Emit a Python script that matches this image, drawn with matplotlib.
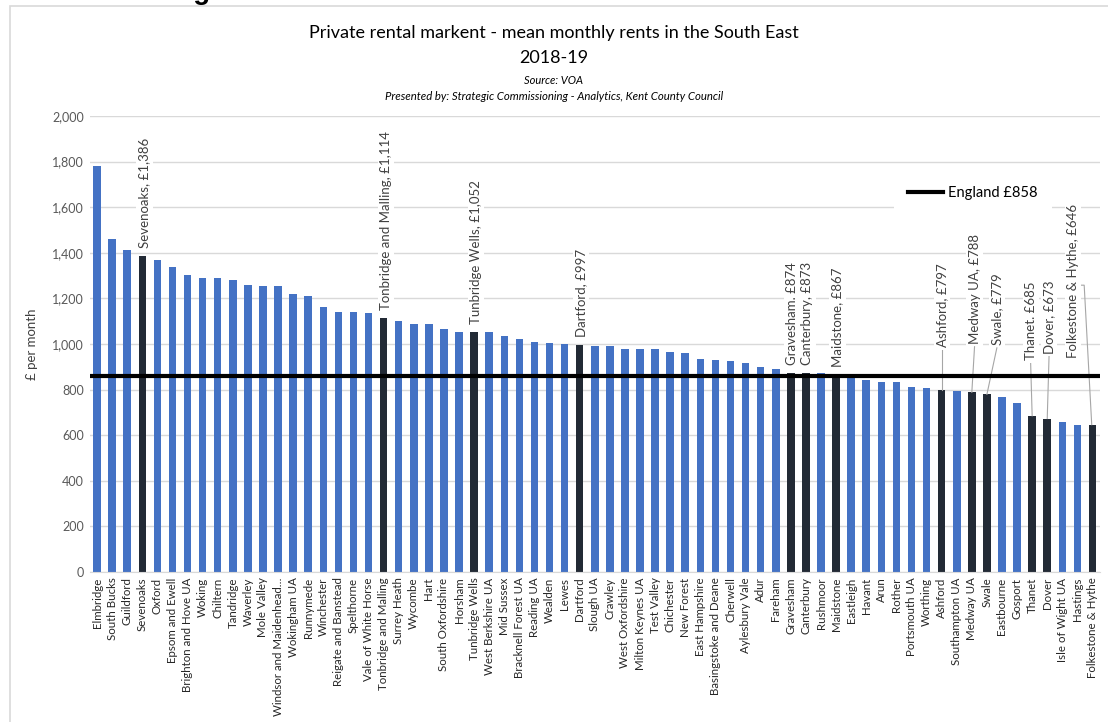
import matplotlib
matplotlib.use("Agg")
import matplotlib.pyplot as plt
from matplotlib.patches import Rectangle
from matplotlib.lines import Line2D

plt.rcParams['font.family'] = ['Lato', 'DejaVu Sans']

# mean monthly rents 2018-19
areas = ["Elmbridge", "South Bucks", "Guildford", "Sevenoaks", "Oxford",
         "Epsom and Ewell", "Brighton and Hove UA", "Woking", "Chiltern",
         "Tandridge", "Waverley", "Mole Valley", "Windsor and Maidenhead\u2026",
         "Wokingham UA", "Runnymede", "Winchester", "Reigate and Banstead",
         "Spelthorne", "Vale of White Horse", "Tonbridge and Malling",
         "Surrey Heath", "Wycombe", "Hart", "South Oxfordshire", "Horsham",
         "Tunbridge Wells", "West Berkshire UA", "Mid Sussex",
         "Bracknell Forest UA", "Reading UA", "Wealden", "Lewes", "Dartford",
         "Slough UA", "Crawley", "West Oxfordshire", "Milton Keynes UA",
         "Test Valley", "Chichester", "New Forest", "East Hampshire",
         "Basingstoke and Deane", "Cherwell", "Aylesbury Vale", "Adur",
         "Fareham", "Gravesham", "Canterbury", "Rushmoor", "Maidstone",
         "Eastleigh", "Havant", "Arun", "Rother", "Portsmouth UA", "Worthing",
         "Ashford", "Southampton UA", "Medway UA", "Swale", "Eastbourne",
         "Gosport", "Thanet", "Dover", "Isle of Wight UA", "Hastings",
         "Folkestone & Hythe"]
rents = [1779, 1459, 1413, 1386, 1367, 1339, 1303, 1288, 1288, 1279,
         1259, 1254, 1254, 1219, 1209, 1163, 1139, 1139, 1134, 1114,
         1100, 1089, 1089, 1065, 1052, 1052, 1052, 1035, 1020, 1010,
         1004, 1000, 997, 990, 990, 976, 976, 976, 965, 959,
         936, 930, 925, 915, 901, 890, 874, 873, 871, 867,
         855, 842, 832, 832, 813, 809, 797, 793, 788, 779,
         769, 743, 685, 673, 658, 645, 646]
kent = ["Sevenoaks", "Tonbridge and Malling", "Tunbridge Wells", "Dartford",
        "Gravesham", "Canterbury", "Maidstone", "Ashford", "Medway UA",
        "Swale", "Thanet", "Dover", "Folkestone & Hythe"]
kent_labels = ["Sevenoaks, \u00a31,386", "Tonbridge and Malling, \u00a31,114",
               "Tunbridge Wells, \u00a31,052", "Dartford, \u00a3997",
               "Gravesham. \u00a3874", "Canterbury, \u00a3873",
               "Maidstone, \u00a3867", "Ashford, \u00a3797", "Medway UA, \u00a3788",
               "Swale, \u00a3779", "Thanet. \u00a3685", "Dover, \u00a3673",
               "Folkestone & Hythe, \u00a3646"]
england = 858

# label placement: (x shift in bars, label base height, leader line?)
label_place = {
    "Sevenoaks": (0.15, 1421, False),
    "Tonbridge and Malling": (0.15, 1149, False),
    "Tunbridge Wells": (0.1, 1088, False),
    "Dartford": (0.1, 1032, False),
    "Gravesham": (0.1, 908, False),
    "Canterbury": (0.1, 908, False),
    "Maidstone": (0.1, 899, False),
    "Ashford": (0.0, 985, True),
    "Medway UA": (0.18, 1000, True),
    "Swale": (0.66, 995, True),
    "Thanet": (-0.1, 928, True),
    "Dover": (0.12, 958, True),
    "Folkestone & Hythe": (-1.3, 940, True),
}

blue = "#4472C4"
dark = "#222A35"
grey_text = "#595959"

fig = plt.figure(figsize=(11.08, 7.22), dpi=100)
ax = fig.add_axes([0.0808, 0.2078, 0.912, 0.6315])

x = list(range(len(areas)))
colours = [dark if a in kent else blue for a in areas]
ax.bar(x, rents, width=0.5, color=colours, zorder=2)

ax.hlines(england, -0.5, len(areas) - 0.5, color="black", lw=3, zorder=4)

for name, lab in zip(kent, kent_labels):
    i = areas.index(name)
    dx, base, leader = label_place[name]
    tx = i + dx
    ax.text(tx, base, lab, rotation=90, ha="center", va="bottom", fontsize=9.5,
            color="#404040", zorder=5,
            bbox=dict(facecolor="white", edgecolor="none", pad=1.5))
    if leader:
        if name == "Folkestone & Hythe":
            mid = 1258
            ax.plot([tx + 0.4, tx + 0.75, i - 0.05], [mid, mid, rents[i]],
                    color="#A6A6A6", lw=0.8, zorder=3)
        else:
            ax.plot([tx, i], [base - 12, rents[i]], color="#A6A6A6", lw=0.8,
                    zorder=3)

ax.set_xlim(-0.5, len(areas) - 0.5)
ax.set_ylim(0, 2000)
ax.set_yticks(range(0, 2001, 200))
ax.set_yticklabels([f"{v:,}" for v in range(0, 2001, 200)], fontsize=9,
                   color=grey_text)
ax.set_xticks(x)
ax.set_xticklabels(areas, rotation=90, fontsize=8.3, color="#262626")
ax.tick_params(length=0, pad=4)
ax.grid(axis="y", color="#D9D9D9", lw=1, zorder=0)
for s in ["top", "right", "left"]:
    ax.spines[s].set_visible(False)
ax.spines["bottom"].set_color("#D9D9D9")
ax.set_ylabel("\u00a3 per month", fontsize=9.5, color="#404040", labelpad=10)

leg = fig.legend([Line2D([0], [0], color="black", lw=3)], ["England \u00a3858"],
                 loc="center", bbox_to_anchor=(0.878, 0.733), fontsize=10.5,
                 frameon=True, handlelength=2.4, handletextpad=0.3,
                 borderpad=1.0)
leg.get_frame().set_facecolor("white")
leg.get_frame().set_edgecolor("none")
leg.get_frame().set_alpha(1)

fig.text(0.5, 0.954, "Private rental markent - mean monthly rents in the South East",
         ha="center", va="center", fontsize=13, color="black")
fig.text(0.5, 0.919, "2018-19", ha="center", va="center", fontsize=13,
         color="black")
fig.text(0.5, 0.888, "Source: VOA", ha="center", va="center", fontsize=8,
         style="italic")
fig.text(0.5, 0.867,
         "Presented by: Strategic Commissioning - Analytics, Kent County Council",
         ha="center", va="center", fontsize=8.2, style="italic")

# heading of the page above, cut off at the top edge
fig.text(0.005, 1.0 + 1 / 722, "Chart 1: Average rents in South East local authorities",
         ha="left", va="baseline", fontsize=20, fontweight="bold",
         family="Liberation Sans")

fig.add_artist(Rectangle((0.009, -0.05), 1.1, 1.042, transform=fig.transFigure,
                         fill=False, edgecolor="#D9D9D9", lw=1.2))

fig.savefig("out.png", dpi=100)
